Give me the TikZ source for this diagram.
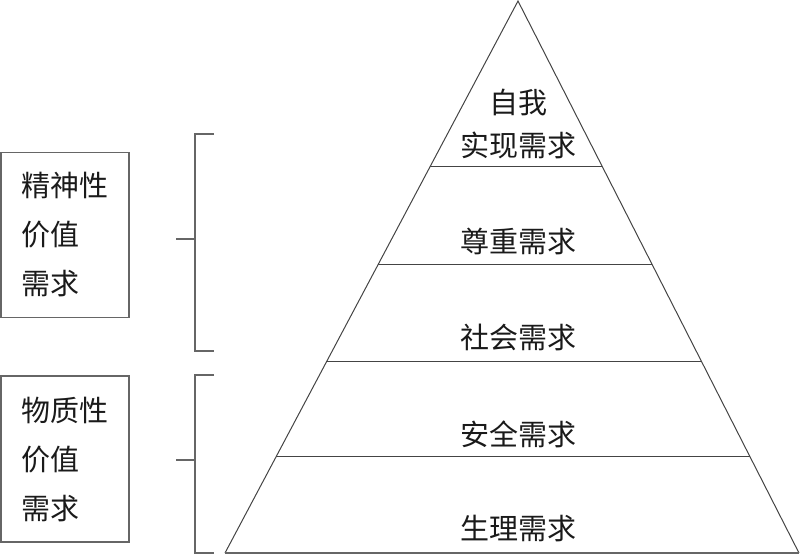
\documentclass[tikz,border=0pt]{standalone}
\usepackage{fontspec}
\newfontfamily\cjk{Noto Sans CJK SC}
\usetikzlibrary{calc}
\definecolor{ln}{HTML}{444444}
\definecolor{bx}{HTML}{666666}
\definecolor{tx}{HTML}{1A1A1A}
\begin{document}
\begin{tikzpicture}[x=1pt,y=-1pt,
  tri/.style={draw=ln, line width=1pt},
  base/.style={draw=bx, line width=2pt},
  boxnode/.style={draw=bx, line width=1.3pt, minimum width=128pt, minimum height=165pt,
     text width=88pt, align=left, inner sep=0pt, text=tx,
     font=\cjk\fontsize{29}{49}\selectfont},
  brk/.style={draw=bx, line width=1.3pt},
  lbl/.style={font=\cjk\fontsize{29}{43}\selectfont, text=tx, inner sep=0pt, align=center}]
\useasboundingbox (0,0) rectangle (800,555);
% pyramid
\coordinate (apex) at (518,1);
\coordinate (bl) at (225,553);
\coordinate (br) at (799,553);
\foreach \n/\y in {t1/166, t2/264, t3/361, t4/456}{
  \coordinate (\n l) at ($(apex)!{(\y-1)/552}!(bl)$);
  \coordinate (\n r) at ($(apex)!{(\y-1)/552}!(br)$);
}
\draw[tri] (bl) -- (apex) -- (br);
\draw[base] (bl) -- (br);
\draw[tri] (t1l) -- (t1r);
\draw[tri] (t2l) -- (t2r);
\draw[tri] (t3l) -- (t3r);
\draw[tri] (t4l) -- (t4r);
% labels
\node[lbl] (l1) at (518,124) {自我\\实现需求};
\node[lbl] (l2) at (518,241) {尊重需求};
\node[lbl] (l3) at (518,337) {社会需求};
\node[lbl] (l4) at (518,434) {安全需求};
\node[lbl] (l5) at (518,528) {生理需求};
% left boxes
\node[boxnode] (b1) at (65,235) {精神性\\价值\\需求};
\node[boxnode, minimum height=166pt] (b2) at (65,459) {物质性\\价值\\需求};
% brackets
\coordinate (k1t) at (214,134);
\coordinate (k1b) at (214,351);
\coordinate (k1m) at (195,239);
\coordinate (k1e) at (176,239);
\draw[brk] (k1t) -| (k1m) |- (k1b);
\draw[brk] (k1m) -- (k1e);
\coordinate (k2t) at (214,375);
\coordinate (k2b) at (214,553);
\coordinate (k2m) at (195,460);
\coordinate (k2e) at (176,460);
\draw[brk] (k2t) -| (k2m) |- (k2b);
\draw[brk] (k2m) -- (k2e);
\end{tikzpicture}
\end{document}
